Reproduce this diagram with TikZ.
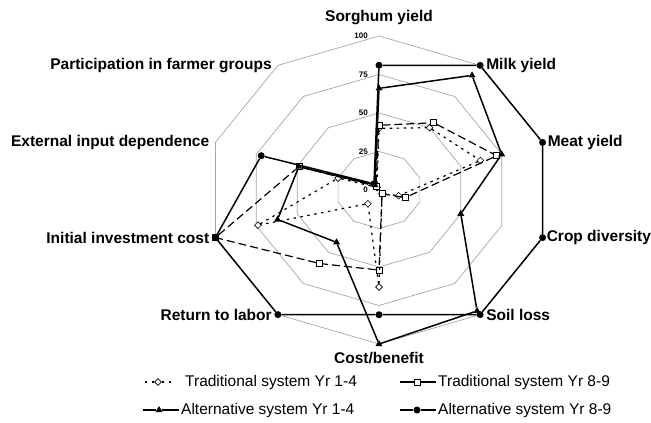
\documentclass[tikz,border=0pt]{standalone}
\usepackage{fontspec}
\setmainfont{Liberation Sans}
\usetikzlibrary{positioning,shapes.geometric}

\begin{document}
\begin{tikzpicture}[x=1.72pt,y=1.54pt,
  ring/.style = {draw=gray!70,line width=0.7pt},
  axlabel/.style = {font=\bfseries\fontsize{15.5}{17}\selectfont,inner sep=0pt},
  ticklabel/.style = {font=\bfseries\fontsize{8}{9}\selectfont,inner sep=0pt,anchor=east,xshift=-11pt},
  keytext/.style = {font=\fontsize{15.5}{17}\selectfont,inner sep=0pt,anchor=west},
  dia/.style = {diamond,draw,fill=white,inner sep=0pt,minimum size=7pt,line width=0.6pt},
  sq/.style = {rectangle,draw,fill=white,inner sep=0pt,minimum size=6pt,line width=0.6pt},
  tri/.style = {regular polygon,regular polygon sides=3,fill=black,inner sep=0pt,minimum size=8pt},
  dot/.style = {circle,fill=black,inner sep=0pt,minimum size=7pt},
  tradA/.style = {line width=1.2pt,dash pattern=on 2.5pt off 4.5pt},
  tradB/.style = {line width=1.2pt,dash pattern=on 8pt off 4pt},
  alt/.style = {line width=1.5pt}]

\useasboundingbox (-379pt,-233pt) rectangle (272pt,190pt);

% rings at 25, 50, 75, 100
\draw[ring] (90:25) -- (54:25) -- (18:25) -- (-18:25) -- (-54:25) -- (-90:25) -- (-126:25) -- (-162:25) -- (162:25) -- (126:25) -- cycle;
\draw[ring] (90:50) -- (54:50) -- (18:50) -- (-18:50) -- (-54:50) -- (-90:50) -- (-126:50) -- (-162:50) -- (162:50) -- (126:50) -- cycle;
\draw[ring] (90:75) -- (54:75) -- (18:75) -- (-18:75) -- (-54:75) -- (-90:75) -- (-126:75) -- (-162:75) -- (162:75) -- (126:75) -- cycle;
\draw[ring] (90:100) -- (54:100) -- (18:100) -- (-18:100) -- (-54:100) -- (-90:100) -- (-126:100) -- (-162:100) -- (162:100) -- (126:100) -- cycle;

\coordinate (o1) at (90:100);
\coordinate (o2) at (54:100);
\coordinate (o3) at (18:100);
\coordinate (o4) at (-18:100);
\coordinate (o5) at (-54:100);
\coordinate (o6) at (-90:100);
\coordinate (o7) at (-126:100);
\coordinate (o8) at (-162:100);
\coordinate (o9) at (162:100);
\coordinate (o10) at (126:100);

\node[ticklabel] (k100) at (90:100) {100};
\node[ticklabel] (k75) at (90:75) {75};
\node[ticklabel] (k50) at (90:50) {50};
\node[ticklabel] (k25) at (90:25) {25};
\node[ticklabel] (k0) at (0,0) {0};

\node[axlabel,above=11pt of o1] (sorghum) {Sorghum yield};
\node[axlabel,right=6pt of o2] (milk) {Milk yield};
\node[axlabel,right=5pt of o3] (meat) {Meat yield};
\node[axlabel,right=4pt of o4] (crop) {Crop diversity};
\node[axlabel,right=6pt of o5] (soil) {Soil loss};
\node[axlabel,below=8pt of o6] (cost) {Cost/benefit};
\node[axlabel,left=6pt of o7] (labor) {Return to labor};
\node[axlabel,left=6pt of o8] (invest) {Initial investment cost};
\node[axlabel,left=6pt of o9] (extern) {External input dependence};
\node[axlabel,left=6pt of o10] (groups) {Participation in farmer groups};

% traditional system yr 1-4
\node[dia] (d1) at (90:40) {};
\node[dia] (d2) at (54:50) {};
\node[dia] (d3) at (18:62) {};
\node[dia] (d4) at (-18:12) {};
\node[dia] (d5) at (-54:3) {};
\node[dia] (d6) at (-90:63) {};
\node[dia] (d7) at (-126:11) {};
\node[dia] (d8) at (-162:74) {};
\node[dia] (d9) at (162:25) {};
\node[dia] (d10) at (126:2) {};

% traditional system yr 8-9
\node[sq] (s1) at (90:42) {};
\node[sq] (s2) at (54:54) {};
\node[sq] (s3) at (18:72) {};
\node[sq] (s4) at (-18:16) {};
\node[sq] (s5) at (-54:3) {};
\node[sq] (s6) at (-90:52) {};
\node[sq] (s7) at (-126:59) {};
\node[sq] (s8) at (-162:100) {};
\node[sq] (s9) at (162:49) {};
\node[sq] (s10) at (126:3) {};

% alternative system yr 1-4
\node[tri] (t1) at (90:66) {};
\node[tri] (t2) at (54:92) {};
\node[tri] (t3) at (18:75) {};
\node[tri] (t4) at (-18:50) {};
\node[tri] (t5) at (-54:97) {};
\node[tri] (t6) at (-90:100) {};
\node[tri] (t7) at (-126:42) {};
\node[tri] (t8) at (-162:62) {};
\node[tri] (t9) at (162:49) {};
\node[tri] (t10) at (126:4) {};

% alternative system yr 8-9
\node[dot] (c1) at (90:81) {};
\node[dot] (c2) at (54:100) {};
\node[dot] (c3) at (18:100) {};
\node[dot] (c4) at (-18:100) {};
\node[dot] (c5) at (-54:100) {};
\node[dot] (c6) at (-90:81) {};
\node[dot] (c7) at (-126:100) {};
\node[dot] (c8) at (-162:100) {};
\node[dot] (c9) at (162:72) {};
\node[dot] (c10) at (126:5) {};

\draw[tradA] (d1) -- (d2) -- (d3) -- (d4) -- (d5) -- (d6) -- (d7) -- (d8) -- (d9) -- (d10) -- (d1);
\draw[tradB] (s1) -- (s2) -- (s3) -- (s4) -- (s5) -- (s6) -- (s7) -- (s8) -- (s9) -- (s10) -- (s1);
\draw[alt] (t1) -- (t2) -- (t3) -- (t4) -- (t5) -- (t6) -- (t7) -- (t8) -- (t9) -- (t10) -- (t1);
\draw[alt] (c1) -- (c2) -- (c3) -- (c4) -- (c5) -- (c6) -- (c7) -- (c8) -- (c9) -- (c10) -- (c1);

% legend
\coordinate (ka1) at (-234pt,-192pt);
\node[dia] (kd) at (-221pt,-192pt) {};
\coordinate (ka2) at (-206pt,-192pt);
\node[keytext] (kt1) at (-194pt,-192pt) {Traditional system Yr 1-4};
\draw[tradA] (ka1) -- (kd) -- (ka2);

\coordinate (kb1) at (21pt,-192pt);
\node[sq] (ks) at (38pt,-192pt) {};
\coordinate (kb2) at (57pt,-192pt);
\node[keytext] (kt2) at (59pt,-192pt) {Traditional system Yr 8-9};
\draw[line width=1.2pt] (kb1) -- (ks) -- (kb2);

\coordinate (kc1) at (-236pt,-220pt);
\node[tri] (kt) at (-220pt,-220pt) {};
\coordinate (kc2) at (-200pt,-220pt);
\node[keytext] (kt3) at (-198pt,-220pt) {Alternative system Yr 1-4};
\draw[alt] (kc1) -- (kt) -- (kc2);

\coordinate (kd1) at (21pt,-220pt);
\node[dot] (kc) at (38pt,-220pt) {};
\coordinate (kd2) at (57pt,-220pt);
\node[keytext] (kt4) at (59pt,-220pt) {Alternative system Yr 8-9};
\draw[alt] (kd1) -- (kc) -- (kd2);
\end{tikzpicture}
\end{document}
